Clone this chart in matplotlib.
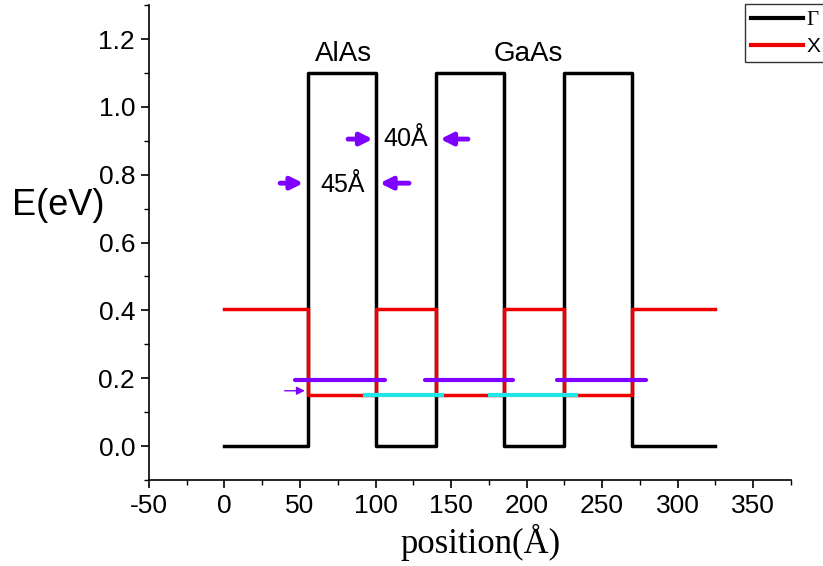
import numpy as np
import matplotlib
matplotlib.use("Agg")
import matplotlib.pyplot as plt
from matplotlib.ticker import MultipleLocator

plt.rcParams["font.family"] = ["Liberation Sans", "DejaVu Sans"]
plt.rcParams["axes.unicode_minus"] = False

# band edges (step profiles)
gamma_x = [0, 55, 55, 100, 100, 140, 140, 185, 185, 225, 225, 270, 270, 325]
gamma_e = [0, 0, 1.1, 1.1, 0, 0, 1.1, 1.1, 0, 0, 1.1, 1.1, 0, 0]
xband_x = [0, 55, 55, 100, 100, 140, 140, 185, 185, 225, 225, 270, 270, 325]
xband_e = [0.405, 0.405, 0.15, 0.15, 0.405, 0.405, 0.15, 0.15, 0.405, 0.405, 0.15, 0.15, 0.405, 0.405]

# energy levels
purple_level = 0.195
purple_segments = [(47, 106), (133, 191), (220, 279)]
cyan_level = 0.15
cyan_segments = [(93, 144), (176, 233)]

PURPLE = "#8000ff"
CYAN = "#22e5e8"

fig = plt.figure(figsize=(8.23, 5.66), dpi=100)
ax = fig.add_axes([0.181, 0.152, 0.78, 0.839])

ax.plot(gamma_x, gamma_e, color="black", lw=2.5, label="Γ")
ax.plot(xband_x, xband_e, color="#ee0000", lw=2.5, label="X")

for a, b in purple_segments:
    ax.plot([a, b], [purple_level, purple_level], color=PURPLE, lw=3, solid_capstyle="round")
for a, b in cyan_segments:
    ax.plot([a, b], [cyan_level, cyan_level], color=CYAN, lw=3)

# small arrow on the left
ax.annotate("", xy=(55, 0.163), xytext=(38, 0.163),
            arrowprops=dict(arrowstyle="-|>", color=PURPLE, lw=1, mutation_scale=12))

# width arrows
arr = dict(arrowstyle="-|>", color=PURPLE, lw=3.5, mutation_scale=18)
ax.annotate("", xy=(54, 0.775), xytext=(35, 0.775), arrowprops=arr)
ax.annotate("", xy=(101, 0.775), xytext=(124, 0.775), arrowprops=arr)
ax.annotate("", xy=(100, 0.905), xytext=(80, 0.905), arrowprops=arr)
ax.annotate("", xy=(141, 0.905), xytext=(163, 0.905), arrowprops=arr)
ax.text(78, 0.77, "45Å", fontsize=18, ha="center", va="center")
ax.text(120, 0.905, "40Å", fontsize=18, ha="center", va="center")

ax.text(79, 1.156, "AlAs", fontsize=20, ha="center", va="center")
ax.text(201, 1.156, "GaAs", fontsize=20, ha="center", va="center")

ax.set_xlim(-50, 375)
ax.set_ylim(-0.1, 1.3)
ax.xaxis.set_major_locator(MultipleLocator(50))
ax.xaxis.set_minor_locator(MultipleLocator(25))
ax.yaxis.set_major_locator(MultipleLocator(0.2))
ax.yaxis.set_minor_locator(MultipleLocator(0.1))
ax.yaxis.set_major_formatter(plt.FuncFormatter(lambda v, p: f"{v:.1f}"))
ax.tick_params(which="major", direction="out", length=6, width=1.2, labelsize=19, pad=4)
ax.tick_params(which="minor", direction="out", length=3.5, width=1)
ax.spines["top"].set_visible(False)
ax.spines["right"].set_visible(False)
ax.spines["left"].set_linewidth(1.2)
ax.spines["bottom"].set_linewidth(1.2)

fig.text(481 / 823, 1 - 542 / 566, "position(Å)", fontsize=25, family="Liberation Serif",
         ha="center", va="center")
fig.text(12 / 823, 1 - 206 / 566, "E(eV)", fontsize=26, ha="left", va="center")

leg = fig.legend(loc="upper left", bbox_to_anchor=(745 / 823, 1 - 4 / 566), fontsize=15,
                 frameon=True, fancybox=False, edgecolor="black", handlelength=2.5,
                 borderpad=0.3, labelspacing=0.35, handletextpad=0.15, borderaxespad=0)
leg.get_frame().set_linewidth(1)
for line in leg.get_lines():
    line.set_linewidth(3)
leg.get_texts()[0].set_family("Liberation Serif")

fig.savefig("out.png", dpi=100)
